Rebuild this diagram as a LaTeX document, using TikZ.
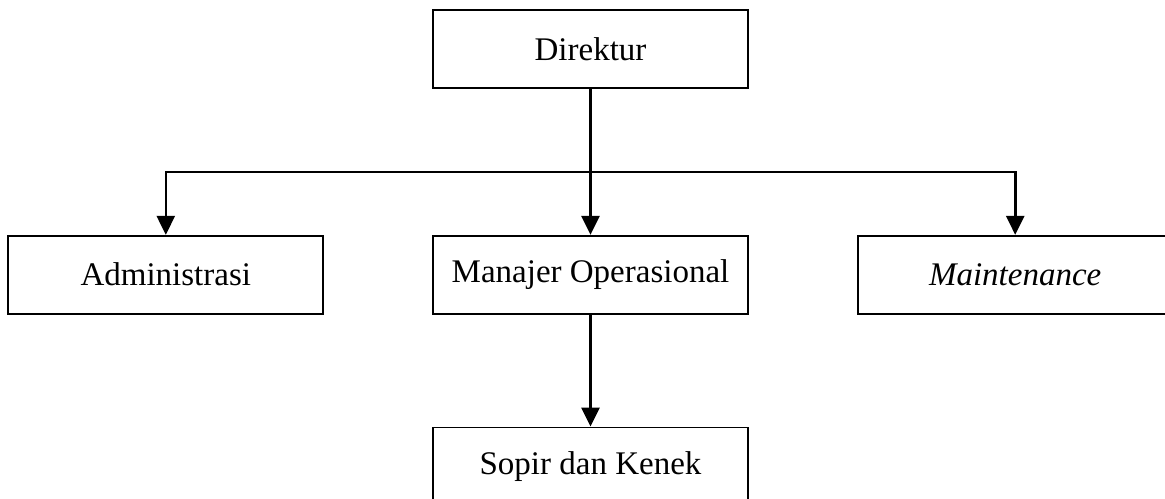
\documentclass[tikz,border=0pt]{standalone}
\usepackage{fontspec}
\setmainfont{Liberation Serif}
\usetikzlibrary{arrows.meta, positioning}
\definecolor{linecolor}{RGB}{0, 0, 0}
\tikzset{
  orgbox/.style={rectangle, minimum width=157.5pt, minimum height=39pt, inner sep=0pt, text centered, font=\fontsize{16.5}{20}\selectfont, draw=linecolor, line width=0.85pt},
  arr/.style={-{Triangle[length=9.5pt, width=9pt]}, line width=1.3pt, color=linecolor}
}
\begin{document}
\begin{tikzpicture}[node distance=73pt and 54pt]

  \useasboundingbox (0,0) rectangle (582.5pt,249pt);

  \begin{scope}
  \clip (0,0) rectangle (582.5pt,249pt);

  \node[orgbox] (direktur) at (295.25pt,224.5pt) {Direktur};
  \node[orgbox, below=of direktur]          (manajer) {Manajer Operasional};
  \node[orgbox, left=54pt of manajer]       (admin)   {Administrasi};
  \node[orgbox, right=54pt of manajer]      (maint)   {\textit{Maintenance}};
  \node[orgbox, below=56pt of manajer]      (sopir)   {Sopir dan Kenek};

  \coordinate[below=41.5pt of direktur.south] (bar);

  \draw[arr] (direktur.south) -- (manajer.north);
  \draw[arr] (bar) -| (admin.north);
  \draw[arr] (bar) -| (maint.north);
  \draw[arr] (manajer.south) -- (sopir.north);
  \end{scope}

\end{tikzpicture}
\end{document}
